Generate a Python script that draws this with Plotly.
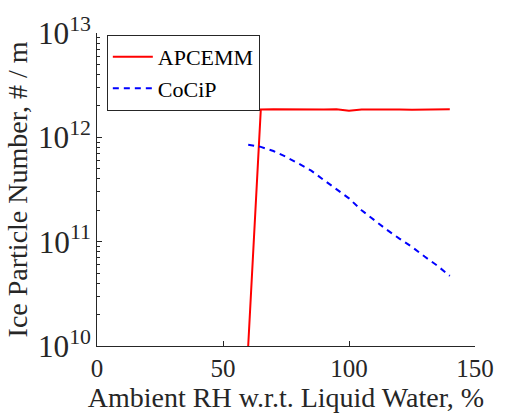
import plotly.graph_objects as go

rh = [60, 65, 70, 75, 80, 85, 90, 95, 100, 105, 110, 115, 120, 125, 130, 135, 140]
apcemm = [1.0e10, 1.85e12, 1.86e12, 1.85e12, 1.86e12, 1.86e12, 1.85e12, 1.86e12, 1.80e12,
          1.85e12, 1.86e12, 1.85e12, 1.85e12, 1.84e12, 1.85e12, 1.86e12, 1.86e12]
cocip = [8.5e11, 8.1e11, 7.4e11, 6.5e11, 5.6e11, 4.8e11, 3.9e11, 3.2e11, 2.6e11,
         2.0e11, 1.6e11, 1.3e11, 1.07e11, 8.9e10, 7.2e10, 5.9e10, 4.7e10]

FONT = "Liberation Serif"
AX = "#262626"

fig = go.Figure()
fig.add_trace(go.Scatter(x=rh, y=apcemm, mode="lines", name="APCEMM",
                         line=dict(color="#ff0000", width=2)))
fig.add_trace(go.Scatter(x=rh, y=cocip, mode="lines", name="CoCiP",
                         line=dict(color="#0000ff", width=2, dash="6px,5px")))

fig.update_layout(
    width=506, height=416,
    margin=dict(l=97, r=19, t=25, b=68),
    paper_bgcolor="white", plot_bgcolor="white",
    font=dict(family=FONT, size=25, color=AX),
    showlegend=True,
    legend=dict(x=0.026, y=0.994, xanchor="left", yanchor="top",
                bgcolor="white", bordercolor=AX, borderwidth=1,
                font=dict(family=FONT, size=22, color="black"),
                tracegroupgap=0, itemwidth=40),
    xaxis=dict(range=[0, 150], tickvals=[0, 50, 100, 150], ticks="inside",
               ticklen=5, tickcolor=AX, showline=True, linecolor=AX, linewidth=1,
               showgrid=False, zeroline=False,
               title=dict(text="Ambient RH w.r.t. Liquid Water, %", standoff=2,
                          font=dict(size=28)),
               tickfont=dict(size=25)),
    yaxis=dict(type="log", range=[10, 13], dtick=1, exponentformat="power",
               ticks="inside", ticklen=5, tickcolor=AX, showline=True,
               linecolor=AX, linewidth=1, showgrid=False, zeroline=False,
               minor=dict(ticks="inside", ticklen=3, tickcolor=AX, dtick="D1",
                          showgrid=False),
               title=dict(text="Ice Particle Number, # / m", standoff=2,
                          font=dict(size=28)),
               tickfont=dict(size=25)),
)

fig.write_html("out.html")
